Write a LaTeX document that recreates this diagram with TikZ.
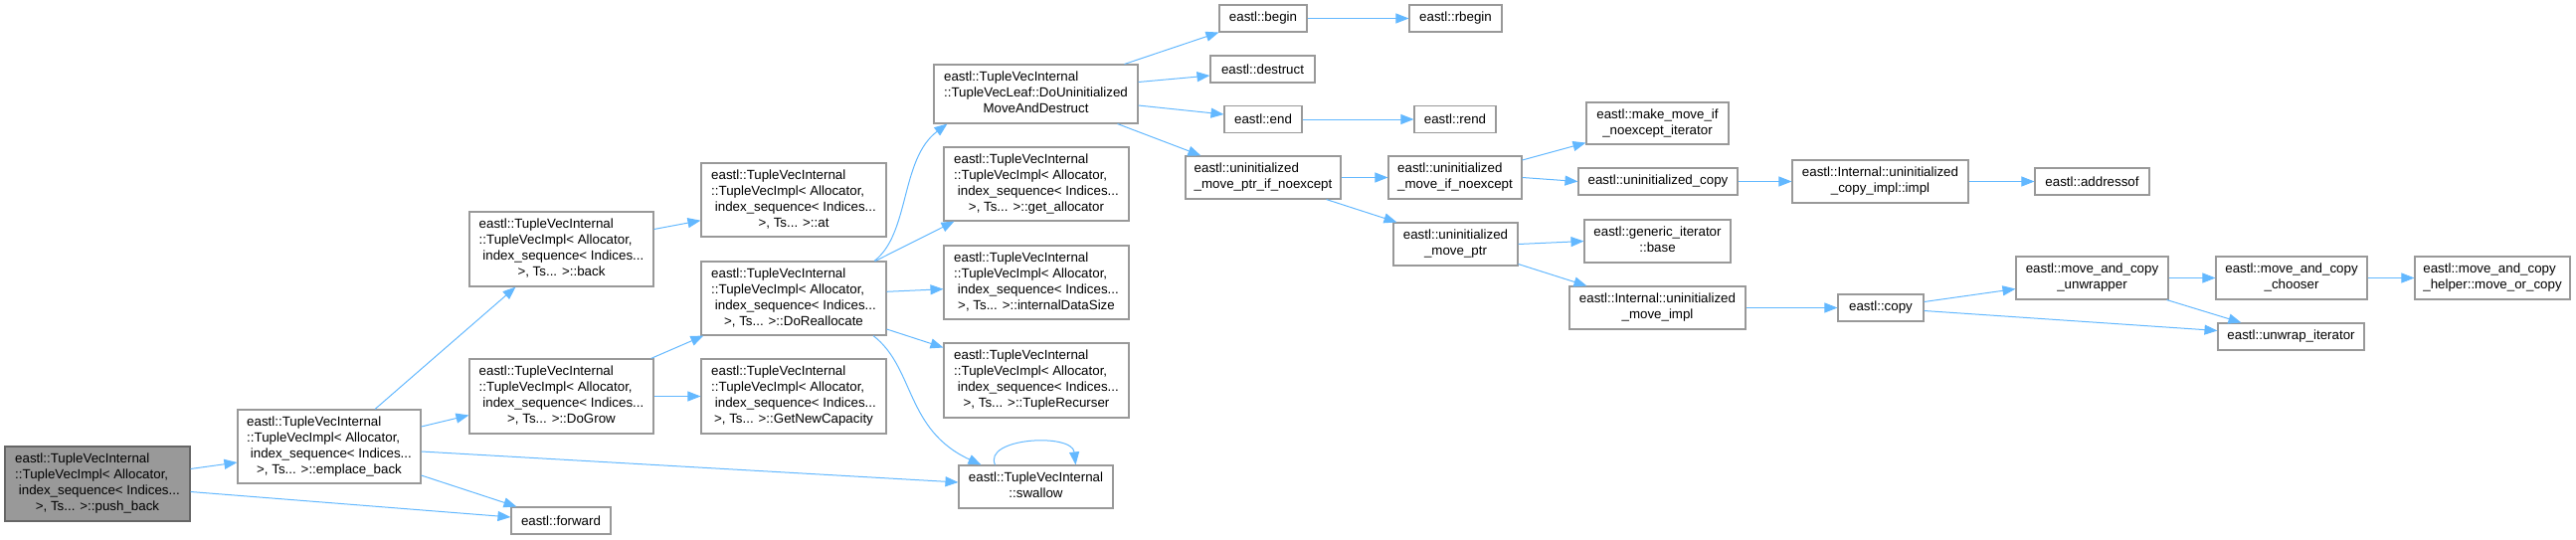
\documentclass[tikz,border=0pt]{standalone}
\usepackage{fontspec}
\setmainfont{Liberation Sans}
\usetikzlibrary{arrows.meta,calc}
\definecolor{edgec}{HTML}{63B8FF}
\definecolor{nodeb}{HTML}{999999}
\definecolor{rootb}{HTML}{666666}
% all lines but the last are left-justified, the last one centred
\newcommand\lbl[2]{\begin{tabular}{@{}l@{}}#1\\\multicolumn{1}{@{}c@{}}{#2}\end{tabular}}
\newcommand\tvi[1]{\lbl{eastl::TupleVecInternal\\::TupleVecImpl< Allocator,\\\hspace*{3.7pt}index\_sequence< Indices...}{>, Ts... >::#1}}
\begin{document}
\begin{tikzpicture}[x=1pt,y=-1pt,
 box/.style={draw=nodeb,fill=white,line width=1.1pt,inner sep=0pt,font=\fontsize{13.33}{16}\selectfont},
 rootbox/.style={box,fill=nodeb,draw=rootb},
 conn/.style={draw=edgec,line width=1pt,-{Triangle[length=13pt,width=10pt]}}]
\useasboundingbox (0,0) rectangle (2590,543);

% column 0-2
\node[rootbox,minimum width=186pt,minimum height=75pt] (pushback) at (98,486.5) {\tvi{push\_back}};
\node[box,minimum width=184pt,minimum height=74pt] (emplace) at (331,449) {\tvi{emplace\_back}};
\node[box,minimum width=100pt,minimum height=27pt] (forward) at (564,523.5) {eastl::forward};
\node[box,minimum width=185pt,minimum height=75pt] (back) at (564.5,250.5) {\tvi{back}};
\node[box,minimum width=185pt,minimum height=75pt] (dogrow) at (564.5,398.5) {\tvi{DoGrow}};
\node[box,minimum width=186pt,minimum height=74pt] (at) at (798,201) {\tvi{at}};
\node[box,minimum width=186pt,minimum height=74pt] (realloc) at (798,300) {\tvi{DoReallocate}};
\node[box,minimum width=186pt,minimum height=75pt] (getnewcap) at (798,398.5) {\tvi{GetNewCapacity}};
% column 3
\node[box,minimum width=205pt,minimum height=59pt] (domove) at (1041.5,94.5) {\lbl{eastl::TupleVecInternal\\::TupleVecLeaf::DoUninitialized}{MoveAndDestruct}};
\node[box,minimum width=186pt,minimum height=74pt] (getalloc) at (1042,185) {\tvi{get\_allocator}};
\node[box,minimum width=186pt,minimum height=74pt] (internal) at (1042,284) {\tvi{internalDataSize}};
\node[box,minimum width=186pt,minimum height=75pt] (recurser) at (1042,382.5) {\tvi{TupleRecurser}};
\node[box,minimum width=155pt,minimum height=43pt] (swallow) at (1041.5,489.5) {\lbl{eastl::TupleVecInternal}{::swallow}};
% column 4-5
\node[box,minimum width=88pt,minimum height=27pt] (begin) at (1270,18.5) {eastl::begin};
\node[box,minimum width=93pt,minimum height=27pt] (rbegin) at (1463.5,18.5) {eastl::rbegin};
\node[box,minimum width=105pt,minimum height=27pt] (destruct) at (1269.5,69.5) {eastl::destruct};
\node[box,minimum width=78pt,minimum height=27pt] (end) at (1270,120) {eastl::end};
\node[box,minimum width=82pt,minimum height=27pt] (rend) at (1463,120) {eastl::rend};
\node[box,minimum width=156pt,minimum height=43pt] (umpin) at (1270,178.5) {\lbl{eastl::uninitialized}{\_move\_ptr\_if\_noexcept}};
\node[box,minimum width=134pt,minimum height=43pt] (umin) at (1463,178.5) {\lbl{eastl::uninitialized}{\_move\_if\_noexcept}};
\node[box,minimum width=125pt,minimum height=43pt] (ump) at (1463.5,245.5) {\lbl{eastl::uninitialized}{\_move\_ptr}};
% column 6
\node[box,minimum width=143pt,minimum height=42pt] (makemove) at (1666.5,124) {\lbl{eastl::make\_move\_if}{\_noexcept\_iterator}};
\node[box,minimum width=160pt,minimum height=27pt] (ucopy) at (1667,182.5) {eastl::uninitialized\_copy};
\node[box,minimum width=147pt,minimum height=43pt] (gibase) at (1666.5,242.5) {\lbl{eastl::generic\_iterator}{::base}};
\node[box,minimum width=177pt,minimum height=43pt] (umimpl) at (1666.5,309.5) {\lbl{eastl::Internal::uninitialized}{\_move\_impl}};
% column 7+
\node[box,minimum width=177pt,minimum height=43pt] (copyimpl) at (1890.5,182.5) {\lbl{eastl::Internal::uninitialized}{\_copy\_impl::impl}};
\node[box,minimum width=86pt,minimum height=27pt] (copy) at (1891,309.5) {eastl::copy};
\node[box,minimum width=115pt,minimum height=27pt] (addressof) at (2103.5,182.5) {eastl::addressof};
\node[box,minimum width=153pt,minimum height=43pt] (unwrapper) at (2103.5,279.5) {\lbl{eastl::move\_and\_copy}{\_unwrapper}};
\node[box,minimum width=152pt,minimum height=43pt] (chooser) at (2304,279.5) {\lbl{eastl::move\_and\_copy}{\_chooser}};
\node[box,minimum width=156pt,minimum height=43pt] (helper) at (2506,279.5) {\lbl{eastl::move\_and\_copy}{\_helper::move\_or\_copy}};
\node[box,minimum width=147pt,minimum height=27pt] (unwrapit) at (2303.5,338.5) {eastl::unwrap\_iterator};

% edges
\draw[conn] ($(pushback.east)+(0,-15)$) -- ($(emplace.west)+(0,16)$);
\draw[conn] ($(pushback.east)+(0,8)$) -- ($(forward.west)+(0,-3.5)$);
\draw[conn] ($(emplace.north)+(46,0)$) -- ($(back.south)+(-46,0)$);
\draw[conn] ($(emplace.east)+(0,-20)$) -- ($(dogrow.west)+(0,19)$);
\draw[conn] ($(emplace.east)+(0,29)$) -- ($(forward.north west)+(6,0)$);
\draw[conn] ($(emplace.east)+(0,5)$) -- ($(swallow.west)+(0,-4.5)$);
\draw[conn] ($(back.east)+(0,-20)$) -- ($(at.west)+(0,20.7)$);
\draw[conn] ($(dogrow.north east)+(-3,0)$) -- ($(realloc.south west)+(3,0)$);
\draw[conn] (dogrow.east) -- (getnewcap.west);
\draw[conn] ($(realloc.north)+(81,0)$) .. controls (915,235) and (905,160) .. ($(domove.south west)+(14,0)$);
\draw[conn] ($(realloc.north)+(82,0)$) -- ($(getalloc.south west)+(11,0)$);
\draw[conn] ($(realloc.east)+(0,-6.7)$) -- ($(internal.west)+(0,6.7)$);
\draw[conn] ($(realloc.east)+(0,31)$) -- ($(recurser.west)+(0,-33)$);
\draw[conn] ($(realloc.south)+(80,0)$) .. controls (920,370) and (910,432) .. ($(swallow.north west)+(23,0)$);
\draw[conn] ($(swallow.north)+(-41,0)$) .. controls (988,440) and (1078,435) .. ($(swallow.north)+(40,0)$);
\draw[conn] ($(domove.north east)+(-14,0)$) -- (begin.south west);
\draw[conn] ($(domove.east)+(0,-12)$) -- ($(destruct.west)+(0,6.5)$);
\draw[conn] ($(domove.east)+(0,11.5)$) -- ($(end.west)+(0,-5)$);
\draw[conn] ($(domove.south east)+(-21,0)$) -- ($(umpin.north west)+(16,0)$);
\draw[conn] (begin.east) -- (rbegin.west);
\draw[conn] (end.east) -- (rend.west);
\draw[conn] (umpin.east) -- (umin.west);
\draw[conn] ($(umpin.south east)+(-15,0)$) -- ($(ump.north west)+(4,0)$);
\draw[conn] ($(umin.east)+(0,-17.5)$) -- ($(makemove.south west)+(0,-2)$);
\draw[conn] (umin.east) -- (ucopy.west);
\draw[conn] (ucopy.east) -- (copyimpl.west);
\draw[conn] (copyimpl.east) -- (addressof.west);
\draw[conn] (ump.east) -- (gibase.west);
\draw[conn] ($(ump.south east)+(0,-2)$) -- ($(umimpl.north west)+(18,0)$);
\draw[conn] (umimpl.east) -- (copy.west);
\draw[conn] ($(copy.east)+(0,-6)$) -- ($(unwrapper.west)+(0,11)$);
\draw[conn] ($(copy.east)+(0,3)$) -- ($(unwrapit.west)+(0,-6)$);
\draw[conn] (unwrapper.east) -- (chooser.west);
\draw[conn] ($(unwrapper.south east)+(-2,0)$) -- ($(unwrapit.north west)+(24,0)$);
\draw[conn] (chooser.east) -- (helper.west);
\end{tikzpicture}
\end{document}
